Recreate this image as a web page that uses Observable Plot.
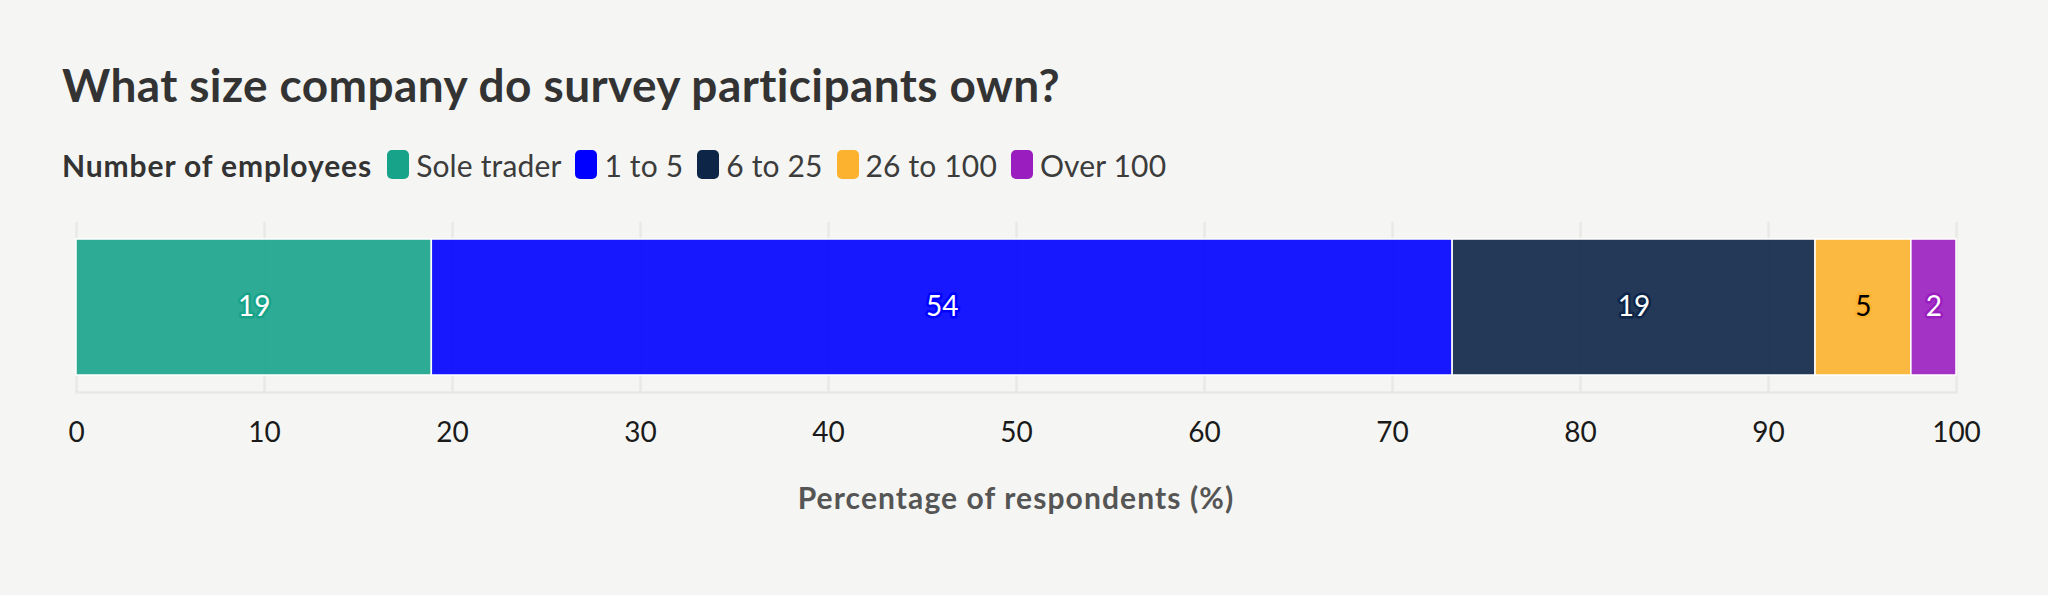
<!DOCTYPE html>
<html><head><meta charset="utf-8">
<script src="https://cdn.jsdelivr.net/npm/d3@7"></script>
<script src="https://cdn.jsdelivr.net/npm/@observablehq/plot@0.6"></script>
<style>
body{margin:0;background:#f5f6f3;width:2048px;height:595px;overflow:hidden;font-family:Lato,sans-serif;position:relative}
#title{position:absolute;left:62px;top:62px;font-size:46px;line-height:46px;font-weight:700;color:#333;white-space:nowrap;letter-spacing:0.4px}
#legend{position:absolute;left:62px;top:150px;display:flex;align-items:flex-start;font-size:30px;line-height:30px;color:#3c3c3c;white-space:nowrap;letter-spacing:0.15px}
#legend .lab{font-weight:700;color:#333;margin-right:15px;letter-spacing:0.9px}
#legend .item{display:flex;align-items:flex-start;margin-right:14px}
#legend .item:first-of-type span:last-child{letter-spacing:0.8px}
#legend .sw{width:22px;height:29px;border-radius:5px;margin-right:7px}
#chart{position:absolute;left:0;top:200px}
#xlabel{position:absolute;left:76px;width:1880px;top:482px;text-align:center;font-size:30px;line-height:30px;font-weight:700;color:#555;letter-spacing:1.1px}
</style>
</head><body>
<div id="title">What size company do survey participants own?</div>
<div id="legend"></div>
<div id="chart"></div>
<div id="xlabel">Percentage of respondents (%)</div>
<script>
const legendTitle = "Number of employees";
const categories = ["Sole trader", "1 to 5", "6 to 25", "26 to 100", "Over 100"];
const values = [18.9, 54.3, 19.3, 5.1, 2.4];
const labels = ["19", "54", "19", "5", "2"];
const xTicks = [0, 10, 20, 30, 40, 50, 60, 70, 80, 90, 100];
const colors = ["#17a38a", "#0000ff", "#0d2547", "#fdb22f", "#9a1ebf"];

const data = categories.map((c, i) => ({category: c, value: values[i], label: labels[i], row: "all"}));

// legend
const lg = document.getElementById("legend");
const lt = document.createElement("span"); lt.className = "lab"; lt.textContent = legendTitle; lg.appendChild(lt);
categories.forEach((c, i) => {
  const it = document.createElement("span"); it.className = "item";
  const sw = document.createElement("span"); sw.className = "sw"; sw.style.background = colors[i];
  const tx = document.createElement("span"); tx.textContent = c;
  it.appendChild(sw); it.appendChild(tx); lg.appendChild(it);
});

const darkText = "26 to 100";
const chart = Plot.plot({
  width: 2048, height: 260,
  marginLeft: 76, marginRight: 92, marginTop: 22, marginBottom: 68,
  style: {background: "transparent", fontFamily: "Lato, sans-serif", fontSize: "28px", color: "#1a1a1a", overflow: "visible"},
  x: {domain: [0, 100], ticks: xTicks},
  y: {domain: ["all"], padding: 0.1111, axis: null},
  color: {domain: categories, range: colors},
  marks: [
    Plot.ruleX(xTicks, {stroke: "#e8e8e6", strokeWidth: 2.5}),
    Plot.frame({anchor: "bottom", stroke: "#e8e8e6", strokeWidth: 2.5}),
    Plot.barX(data, Plot.stackX({x: "value", y: "row", fill: "category", fillOpacity: 0.9, stroke: "white", strokeWidth: 1.5})),
    Plot.text(data, Plot.stackX({x: "value", y: "row", text: d => d.category === darkText ? null : d.label, fill: "white", stroke: "category", strokeWidth: 5, fontSize: 28})),
    Plot.text(data, Plot.stackX({x: "value", y: "row", text: d => d.category === darkText ? d.label : null, fill: "black", stroke: "category", strokeWidth: 5, fontSize: 28})),
    Plot.axisX({ticks: xTicks, tickSize: 0, tickPadding: 30, fontSize: 28, label: null, tickFormat: d => String(d)})
  ]
});
document.getElementById("chart").appendChild(chart);
</script>
</body></html>
